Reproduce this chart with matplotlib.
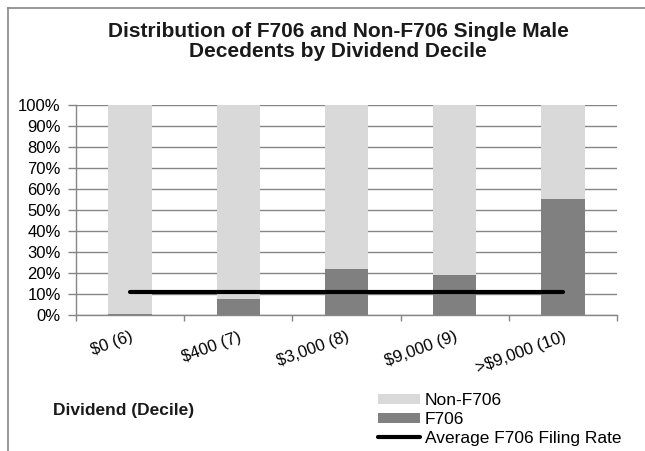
import matplotlib
matplotlib.use('Agg')
import numpy as np
import matplotlib.pyplot as plt
from matplotlib.lines import Line2D

plt.rcParams['font.family'] = ['Liberation Sans', 'DejaVu Sans']

categories = ['$0 (6)', '$400 (7)', '$3,000 (8)', '$9,000 (9)', '>$9,000 (10)']
f706 = [0.7, 7.8, 22.0, 19.3, 55.4]
non_f706 = [100 - v for v in f706]
avg_rate = 11.1

grey = '#868686'

fig = plt.figure(figsize=(6.45, 4.51), dpi=100)
ax = fig.add_axes([0.1178, 0.3009, 0.8388, 0.4663])

x = np.arange(len(categories))
width = 0.4
b_f706 = ax.bar(x, f706, width, color='#808080', zorder=2)
b_non = ax.bar(x, non_f706, width, bottom=f706, color='#d9d9d9', zorder=2)
avg_line, = ax.plot([x[0], x[-1]], [avg_rate, avg_rate], color='black', lw=3,
                    solid_capstyle='round', zorder=3)

ax.set_xlim(-0.5, len(categories) - 0.5)
ax.set_ylim(0, 100)
ax.set_yticks(np.arange(0, 101, 10))
ax.set_yticklabels(['%d%%' % v for v in range(0, 101, 10)])
ax.yaxis.grid(True, color=grey, lw=1.0, zorder=0)
ax.set_axisbelow(True)

ax.set_xticks(x)
ax.set_xticklabels(categories, rotation=20, ha='right', rotation_mode='anchor')
ax.set_xticks(np.arange(-0.5, len(categories)), minor=True)
ax.tick_params(axis='x', which='major', length=0, pad=10, labelsize=12)
ax.tick_params(axis='x', which='minor', length=4, color=grey, width=1)
ax.tick_params(axis='y', length=6, color=grey, width=1, pad=5, labelsize=12)

for s in ['top', 'right']:
    ax.spines[s].set_visible(False)
for s in ['left', 'bottom']:
    ax.spines[s].set_color(grey)
    ax.spines[s].set_linewidth(1.0)

fig.text(0.524, 0.908, 'Distribution of F706 and Non-F706 Single Male\nDecedents by Dividend Decile',
         ha='center', va='center', fontsize=15, fontweight='bold', linespacing=1.05,
         color='#1a1a1a')
fig.text(53 / 645, 1 - 411 / 451, 'Dividend (Decile)', ha='left', va='center',
         fontsize=12.5, fontweight='bold', color='#1a1a1a')

fig.legend([b_non, b_f706, avg_line], ['Non-F706', 'F706', 'Average F706 Filing Rate'],
           loc='upper left', bbox_to_anchor=(0.586, 0.128), bbox_transform=fig.transFigure,
           frameon=False, fontsize=12.5, borderpad=0, borderaxespad=0,
           handlelength=2.4, handleheight=0.57, handletextpad=0.3,
           labelspacing=0.22)

# outer chart border (top and left visible)
fig.add_artist(Line2D([7.5 / 645, 1], [1 - 7.5 / 451, 1 - 7.5 / 451],
                      transform=fig.transFigure, color=grey, lw=1.2))
fig.add_artist(Line2D([7.5 / 645, 7.5 / 645], [0, 1 - 7.5 / 451],
                      transform=fig.transFigure, color=grey, lw=1.2))

fig.savefig('out.png', dpi=100)
